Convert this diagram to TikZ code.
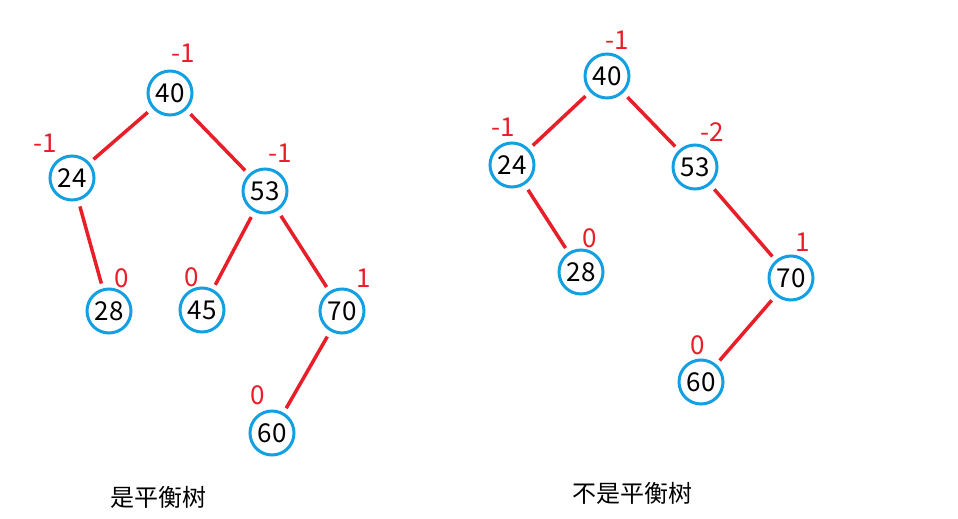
\documentclass[tikz,border=0pt]{standalone}
\usepackage{fontspec}
\setmainfont{Noto Sans CJK SC}
\definecolor{ringblue}{RGB}{18,160,226}
\definecolor{edgered}{RGB}{232,30,40}
\begin{document}
\begin{tikzpicture}[x=1pt,y=-1pt,
  tnode/.style={circle,draw=ringblue,line width=3pt,minimum size=44pt,inner sep=0pt,font=\fontsize{26}{28}\selectfont},
  bal/.style={text=edgered,inner sep=0pt,font=\fontsize{26}{28}\selectfont},
  tedge/.style={draw=edgered,line width=3.5pt,shorten <=6pt,shorten >=5pt},
  captxt/.style={inner sep=0pt,font=\fontsize{24}{28}\selectfont}]
\useasboundingbox (0,0) rectangle (958,519);
% left tree
\node[tnode] (a40) at (170,93) {40};
\node[tnode] (a24) at (72,178) {24};
\node[tnode] (a53) at (265,191) {53};
\node[tnode] (a28) at (109,311) {28};
\node[tnode] (a45) at (202,310) {45};
\node[tnode] (a70) at (342,311) {70};
\node[tnode] (a60) at (272,433) {60};
\node[bal] (b40) at (183,53) {-1};
\node[bal] (b24) at (45,143) {-1};
\node[bal] (b53) at (280,153) {-1};
\node[bal] (b28) at (122,278) {0};
\node[bal] (b45) at (192,277) {0};
\node[bal] (b70) at (364,278) {1};
\node[bal] (b60) at (258,395) {0};
\draw[tedge] (a40) -- (a24);
\draw[tedge] (a40) -- (a53);
\draw[tedge] (a24) -- (a28);
\draw[tedge] (a53) -- (a45);
\draw[tedge] (a53) -- (a70);
\draw[tedge] (a70) -- (a60);
\node[captxt] (capA) at (158,497) {是平衡树};
% right tree
\node[tnode] (c40) at (607,76) {40};
\node[tnode] (c24) at (512,165) {24};
\node[tnode] (c53) at (695,167) {53};
\node[tnode] (c28) at (581,272) {28};
\node[tnode] (c70) at (791,278) {70};
\node[tnode] (c60) at (701,382) {60};
\node[bal] (d40) at (617,40) {-1};
\node[bal] (d24) at (503,127) {-1};
\node[bal] (d53) at (712,132) {-2};
\node[bal] (d28) at (590,238) {0};
\node[bal] (d70) at (803,242) {1};
\node[bal] (d60) at (698,345) {0};
\draw[tedge] (c40) -- (c24);
\draw[tedge] (c40) -- (c53);
\draw[tedge] (c24) -- (c28);
\draw[tedge] (c53) -- (c70);
\draw[tedge] (c70) -- (c60);
\node[captxt] (capB) at (632,493) {不是平衡树};
\end{tikzpicture}
\end{document}
